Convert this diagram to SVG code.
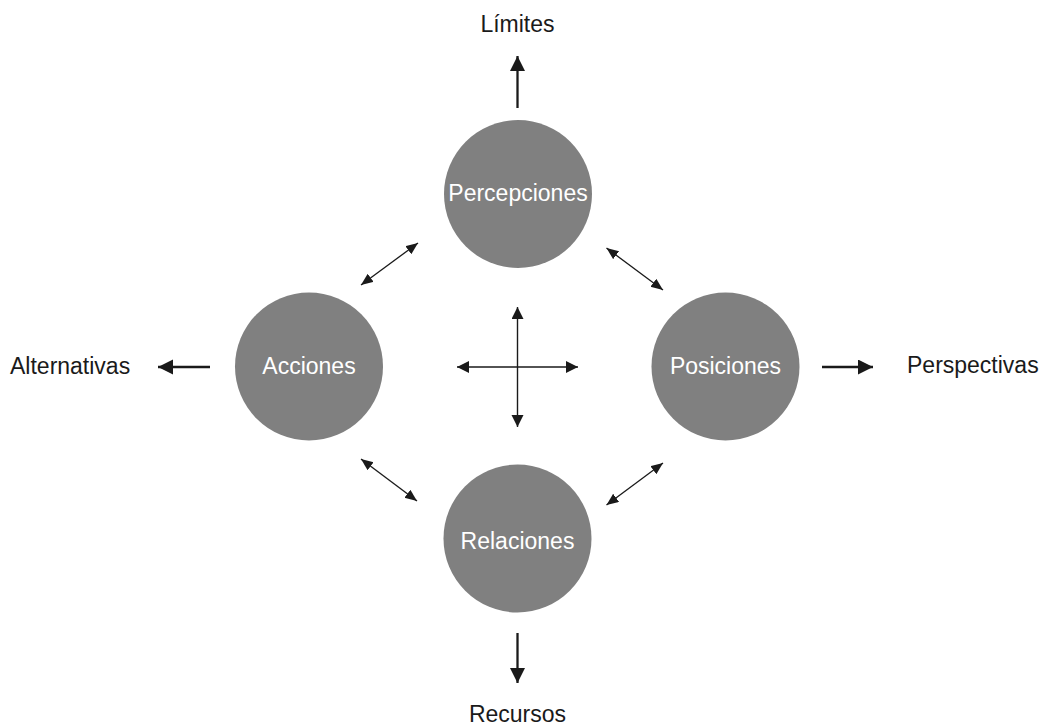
<svg xmlns="http://www.w3.org/2000/svg" width="1045" height="727" viewBox="0 0 1045 727">
  <style>
    .node circle { fill: #808080; }
    .node text { fill: #ffffff; font-family: "Liberation Sans", Arial, sans-serif; font-size: 23px; text-anchor: middle; }
    .label { fill: #1a1a1a; font-family: "Liberation Sans", Arial, sans-serif; font-size: 23px; }
    .big { stroke: #1a1a1a; stroke-width: 2.3; fill: none; }
    .mid { stroke: #1a1a1a; stroke-width: 1.4; fill: none; }
    .thin { stroke: #1a1a1a; stroke-width: 1.3; fill: none; }
  </style>
  <defs>
    <marker id="ahBig" markerUnits="userSpaceOnUse" markerWidth="16" markerHeight="16" refX="15" refY="7.5" orient="auto" viewBox="0 0 16 16">
      <path d="M0,0 L15,7.5 L0,15 z" fill="#1a1a1a"/>
    </marker>
    <marker id="ahMid" markerUnits="userSpaceOnUse" markerWidth="13" markerHeight="13" refX="12" refY="6" orient="auto-start-reverse" viewBox="0 0 13 13">
      <path d="M0,0 L12,6 L0,12 z" fill="#1a1a1a"/>
    </marker>
    <marker id="ahSmall" markerUnits="userSpaceOnUse" markerWidth="13" markerHeight="13" refX="12" refY="5" orient="auto-start-reverse" viewBox="0 0 13 13">
      <path d="M0,0 L12,5 L0,10 z" fill="#1a1a1a"/>
    </marker>
  </defs>

  <g id="connectors">
    <line class="big" x1="517.5" y1="108" x2="517.5" y2="56" marker-end="url(#ahBig)"/>
    <line class="big" x1="517.5" y1="633" x2="517.5" y2="683" marker-end="url(#ahBig)"/>
    <line class="big" x1="210" y1="367" x2="158" y2="367" marker-end="url(#ahBig)"/>
    <line class="big" x1="822" y1="367" x2="873" y2="367" marker-end="url(#ahBig)"/>
    <line class="mid" x1="517.5" y1="307" x2="517.5" y2="427" marker-start="url(#ahMid)" marker-end="url(#ahMid)"/>
    <line class="mid" x1="457" y1="367" x2="578" y2="367" marker-start="url(#ahMid)" marker-end="url(#ahMid)"/>
    <line class="thin" x1="361" y1="285" x2="418" y2="243" marker-start="url(#ahSmall)" marker-end="url(#ahSmall)"/>
    <line class="thin" x1="606.5" y1="248" x2="663" y2="290" marker-start="url(#ahSmall)" marker-end="url(#ahSmall)"/>
    <line class="thin" x1="361" y1="459" x2="417" y2="501" marker-start="url(#ahSmall)" marker-end="url(#ahSmall)"/>
    <line class="thin" x1="663" y1="463" x2="606.5" y2="505" marker-start="url(#ahSmall)" marker-end="url(#ahSmall)"/>
  </g>

  <g id="percepciones" class="node">
    <circle cx="518" cy="194" r="74"/>
    <text x="518" y="201">Percepciones</text>
  </g>
  <g id="acciones" class="node">
    <circle cx="309" cy="366.5" r="74"/>
    <text x="309" y="374">Acciones</text>
  </g>
  <g id="posiciones" class="node">
    <circle cx="725.5" cy="366.5" r="74"/>
    <text x="725.5" y="374">Posiciones</text>
  </g>
  <g id="relaciones" class="node">
    <circle cx="517.5" cy="538.5" r="74"/>
    <text x="517.5" y="549">Relaciones</text>
  </g>

  <g id="limites"><text class="label" x="517.5" y="32" text-anchor="middle">Límites</text></g>
  <g id="recursos"><text class="label" x="517.5" y="722" text-anchor="middle">Recursos</text></g>
  <g id="alternativas"><text class="label" x="10" y="374">Alternativas</text></g>
  <g id="perspectivas"><text class="label" x="907" y="373">Perspectivas</text></g>
</svg>
